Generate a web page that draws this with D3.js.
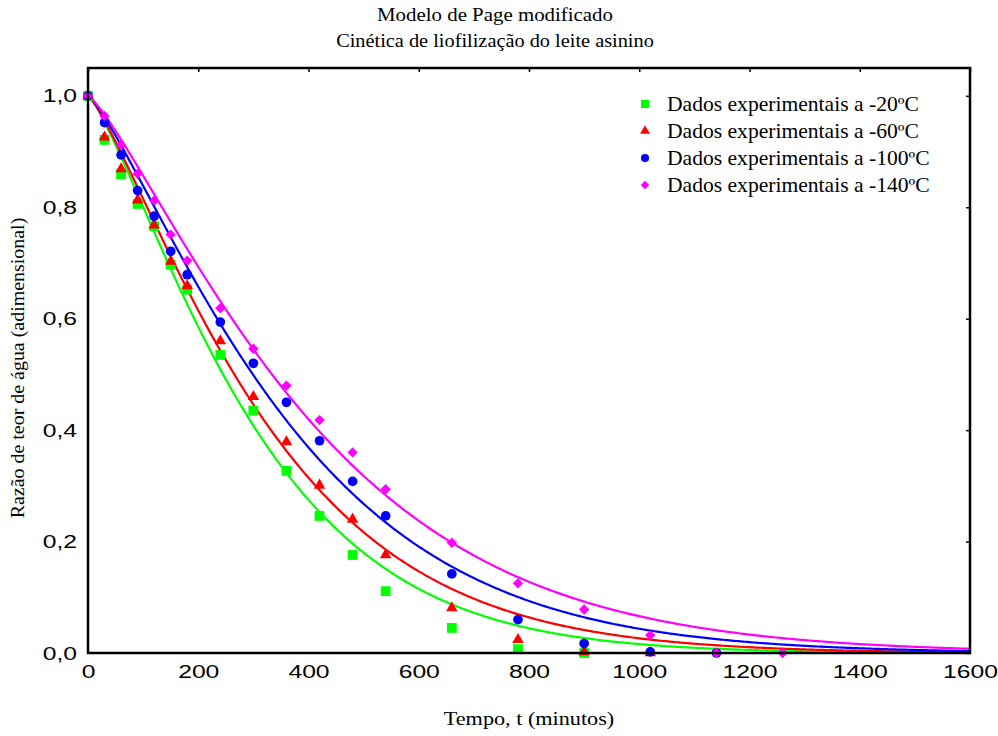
<!DOCTYPE html>
<html>
<head>
<meta charset="utf-8">
<script src="https://cdn.jsdelivr.net/npm/d3@7"></script>
<style>
  html, body { margin: 0; padding: 0; background: #fff; }
  svg { display: block; }
</style>
</head>
<body>
<svg id="chart" width="998" height="736"></svg>
<script>
// Freeze-drying kinetics of donkey milk: moisture ratio vs time, modified Page model fits
const times = [0, 30, 60, 90, 120, 150, 180, 240, 300, 360, 420, 480, 540, 660, 780, 900, 1020, 1140, 1260];

const seriesNames = [
  "Dados experimentais a -20ºC",
  "Dados experimentais a -60ºC",
  "Dados experimentais a -100ºC",
  "Dados experimentais a -140ºC"
];

const mr20  = [1.0, 0.921, 0.859, 0.806, 0.766, 0.697, 0.652, 0.535, 0.435, 0.327, 0.246, 0.176, 0.111, 0.045, 0.007, 0.0];
const mr60  = [1.0, 0.926, 0.869, 0.813, 0.768, 0.703, 0.659, 0.560, 0.460, 0.379, 0.301, 0.240, 0.176, 0.081, 0.024, 0.002, 0.0];
const mr100 = [1.0, 0.952, 0.894, 0.830, 0.784, 0.721, 0.679, 0.594, 0.520, 0.450, 0.381, 0.308, 0.246, 0.142, 0.060, 0.017, 0.002, 0.0];
const mr140 = [1.0, 0.964, 0.912, 0.860, 0.812, 0.751, 0.704, 0.619, 0.546, 0.480, 0.418, 0.360, 0.294, 0.198, 0.125, 0.078, 0.032, 0.0, 0.0];

// Modified Page model MR = exp(-(k t)^n), one parameter pair per temperature
const pageK = [0.003058, 0.002809, 0.002494, 0.002232];
const pageN = [1.27, 1.25, 1.25, 1.245];

const xTicks = [0, 200, 400, 600, 800, 1000, 1200, 1400, 1600];
const yTicks = [0.0, 0.2, 0.4, 0.6, 0.8, 1.0];

const colors = ["#00ff00", "#ff0000", "#0000ff", "#ff00ff"];
// square, triangle, circle, diamond (square turned 45°)
const symbols = [d3.symbolSquare, d3.symbolTriangle, d3.symbolCircle, d3.symbolSquare];
const rotations = [0, 0, 0, 45];
const symbolSizes = [96, 58, 74, 54];
const legendSizes = [64, 42, 52, 36];

const allValues = [mr20, mr60, mr100, mr140];

const svg = d3.select("#chart");
const plot = { left: 88, right: 970, top: 68, bottom: 653 };

const x = d3.scaleLinear().domain([0, 1600]).range([plot.left, plot.right]);
const y = d3.scaleLinear().domain([0, 1.05]).range([plot.bottom, plot.top]);

const SERIF = "'Liberation Serif', 'Times New Roman', serif";
const SANS = "'Liberation Sans', Arial, sans-serif";

// text drawn with a horizontal stretch around its anchor point
function stretchedText(parent, px, py, str, opts) {
  return parent.append("text")
    .attr("transform", `translate(${px},${py}) scale(${opts.sx || 1},1)`)
    .attr("text-anchor", opts.anchor || "start")
    .attr("font-family", opts.family || SERIF)
    .attr("font-size", opts.size || 16)
    .attr("fill", "#000")
    .text(str);
}

// Title
stretchedText(svg, 495, 21, "Modelo de Page modificado", { anchor: "middle", size: 18, sx: 1.16 });
stretchedText(svg, 495, 47, "Cinética de liofilização do leite asinino", { anchor: "middle", size: 18, sx: 1.13 });

// Clip for curves
svg.append("defs").append("clipPath").attr("id", "plotClip")
  .append("rect")
  .attr("x", plot.left).attr("y", plot.top)
  .attr("width", plot.right - plot.left).attr("height", plot.bottom - plot.top);

// Model curves
const curveT = d3.range(0, 1600.001, 4);
const line = d3.line().x(d => x(d[0])).y(d => y(d[1]));
const curves = svg.append("g").attr("clip-path", "url(#plotClip)");
pageK.forEach((k, i) => {
  const pts = curveT.map(t => [t, Math.exp(-Math.pow(k * t, pageN[i]))]);
  curves.append("path")
    .attr("d", line(pts))
    .attr("fill", "none")
    .attr("stroke", colors[i])
    .attr("stroke-width", 2.2);
});

// Experimental points
allValues.forEach((vals, i) => {
  const sym = d3.symbol().type(symbols[i]).size(symbolSizes[i]);
  svg.append("g").selectAll("path")
    .data(vals.map((v, j) => [times[j], v]))
    .join("path")
    .attr("transform", d => `translate(${x(d[0])},${y(d[1])}) rotate(${rotations[i]})`)
    .attr("d", sym)
    .attr("fill", colors[i]);
});

// Frame
svg.append("rect")
  .attr("x", plot.left).attr("y", plot.top)
  .attr("width", plot.right - plot.left).attr("height", plot.bottom - plot.top)
  .attr("fill", "none").attr("stroke", "#000").attr("stroke-width", 2.5);

// Inward ticks on top and right edges
const topAxis = svg.append("g")
  .attr("transform", `translate(0,${plot.top})`)
  .call(d3.axisBottom(x).tickValues(xTicks).tickSize(4).tickFormat(""));
topAxis.select(".domain").remove();
topAxis.selectAll("line").attr("stroke-width", 1.5);

const rightAxis = svg.append("g")
  .attr("transform", `translate(${plot.right},0)`)
  .call(d3.axisLeft(y).tickValues(yTicks).tickSize(4).tickFormat(""));
rightAxis.select(".domain").remove();
rightAxis.selectAll("line").attr("stroke-width", 1.5);

const fmt = v => d3.format(".1f")(v).replace(".", ",");
const TICK_SX = 1.3;

// Bottom tick labels
const bottomAxis = svg.append("g")
  .attr("transform", `translate(0,${plot.bottom})`)
  .call(d3.axisBottom(x).tickValues(xTicks).tickSize(0).tickPadding(12).tickFormat(d3.format("d")));
bottomAxis.select(".domain").remove();
bottomAxis.attr("font-family", SANS).attr("font-size", 19);
bottomAxis.selectAll("text").attr("fill", "#000")
  .attr("transform", `scale(${TICK_SX},1)`);

// Left tick labels
const leftAxis = svg.append("g")
  .attr("transform", `translate(${plot.left},0)`)
  .call(d3.axisLeft(y).tickValues(yTicks).tickSize(0).tickPadding(11 / TICK_SX).tickFormat(fmt));
leftAxis.select(".domain").remove();
leftAxis.attr("font-family", SANS).attr("font-size", 19);
leftAxis.selectAll("text").attr("fill", "#000")
  .attr("transform", `scale(${TICK_SX},1)`);

// Axis titles
stretchedText(svg, (plot.left + plot.right) / 2, 725, "Tempo, t (minutos)", { anchor: "middle", size: 19, sx: 1.17 });
svg.append("text")
  .attr("transform", `translate(24,368) rotate(-90) scale(1.05,1)`)
  .attr("text-anchor", "middle")
  .attr("font-family", SERIF)
  .attr("font-size", 19)
  .attr("fill", "#000")
  .text("Razão de teor de água (adimensional)");

// Legend
const legend = svg.append("g");
seriesNames.forEach((name, i) => {
  const cy = 104 + i * 27;
  legend.append("path")
    .attr("transform", `translate(645,${cy}) rotate(${rotations[i]})`)
    .attr("d", d3.symbol().type(symbols[i]).size(legendSizes[i]))
    .attr("fill", colors[i]);
  stretchedText(legend, 667, cy + 7, name, { size: 20, sx: 1.08 });
});
</script>
</body>
</html>
